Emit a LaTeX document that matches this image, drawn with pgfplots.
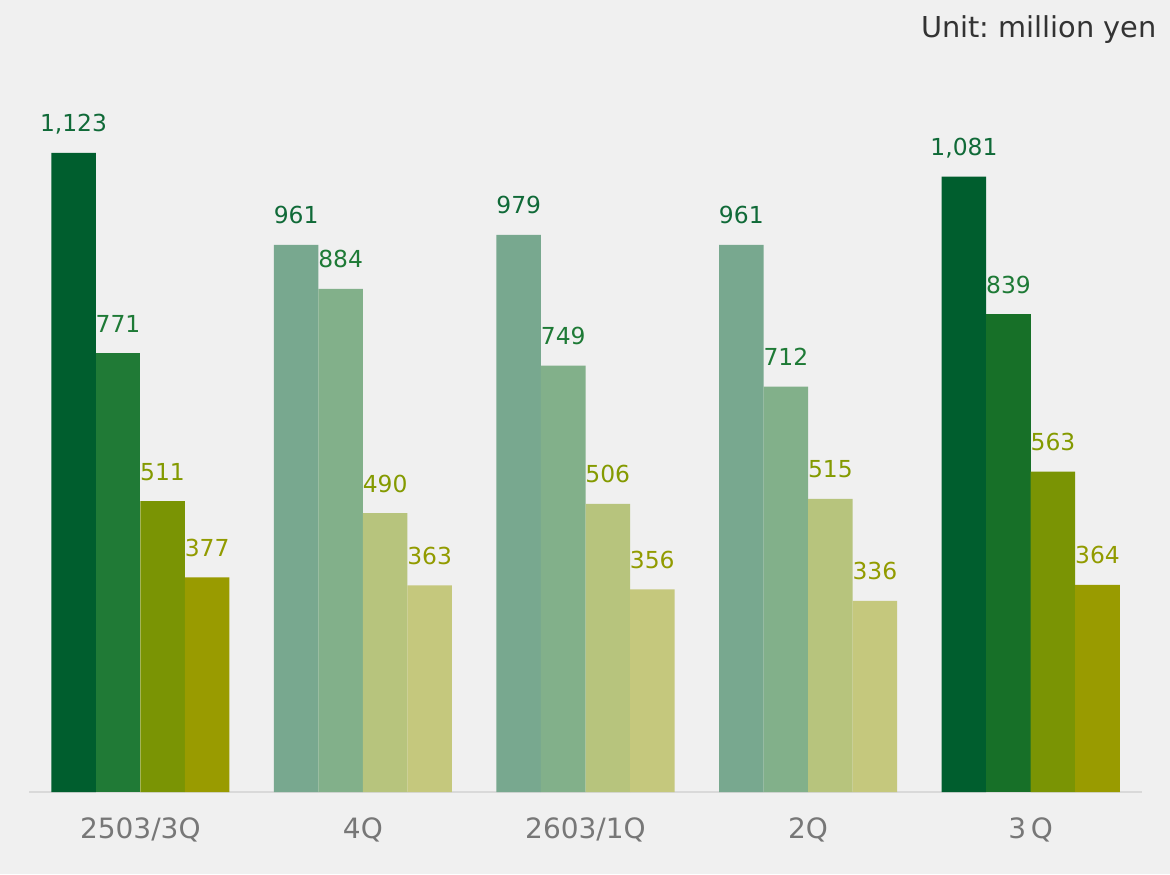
\documentclass[border=0pt]{standalone}
\usepackage{fontspec}
\setmainfont{DejaVu Sans}
\usepackage{pgfplots}
\pgfplotsset{compat=1.18}
\frenchspacing
\definecolor{bg}{HTML}{F0F0F0}
\definecolor{sa}{HTML}{005E2E}
\definecolor{sb}{HTML}{207A36}
\definecolor{sbb}{HTML}{177028}
\definecolor{sc}{HTML}{7A9404}
\definecolor{sd}{HTML}{999B00}
\definecolor{la}{HTML}{78A88F}
\definecolor{lb}{HTML}{82B08A}
\definecolor{lc}{HTML}{B7C47D}
\definecolor{ld}{HTML}{C5C87D}
\definecolor{ta}{HTML}{106A38}
\definecolor{tb}{HTML}{1E7A36}
\definecolor{tc}{HTML}{849A00}
\definecolor{td}{HTML}{929B00}
\definecolor{axgrey}{HTML}{D9D9D9}
\definecolor{tickgrey}{HTML}{777777}
\definecolor{unitgrey}{HTML}{333333}
\begin{document}
\begin{tikzpicture}[x=1pt,y=1pt]
\fill[bg] (0,0) rectangle (585,437);
\node[anchor=base east, text=unitgrey, font=\fontsize{14.4}{17}\selectfont, inner sep=0pt] at (578.5,418) {Unit: million yen};
\begin{axis}[
  at={(14.5pt,41pt)}, anchor=south west,
  scale only axis, width=556.5pt, height=366pt,
  xmin=-0.5, xmax=4.5, ymin=0, ymax=1286,
  axis x line*=bottom, axis y line=none,
  axis line style={draw=axgrey, line width=1pt, -},
  xtick={0,1,2,3,4},
  xticklabels={2503/3Q,4Q,2603/1Q,2Q,\raisebox{-2.5pt}{3\,Q}},
  major tick length=0pt,
  xticklabel style={text=tickgrey, font=\fontsize{14}{17}\selectfont, yshift=-9.5pt},
  ytick=\empty,
  ybar, bar width=0.2,
  clip=false,
  nodes near coords,
  /pgf/number format/.cd, fixed, precision=0, 1000 sep={,}, assume math mode=true,
  /pgfplots/.cd,
  every node near coord/.append style={anchor=base, yshift=10.5pt, font=\fontsize{11.7}{14}\selectfont},
]
% series 1
\addplot[fill=sa, draw=none, bar shift=-0.3, every node near coord/.append style={text=ta}] coordinates {(0,1123) (4,1081)};
\addplot[fill=la, draw=none, bar shift=-0.3, every node near coord/.append style={text=ta}] coordinates {(1,961) (2,979) (3,961)};
% series 2
\addplot[fill=sb, draw=none, bar shift=-0.1, every node near coord/.append style={text=tb}] coordinates {(0,771)};
\addplot[fill=sbb, draw=none, bar shift=-0.1, every node near coord/.append style={text=tb}] coordinates {(4,839)};
\addplot[fill=lb, draw=none, bar shift=-0.1, every node near coord/.append style={text=tb}] coordinates {(1,884) (2,749) (3,712)};
% series 3
\addplot[fill=sc, draw=none, bar shift=0.1, every node near coord/.append style={text=tc}] coordinates {(0,511) (4,563)};
\addplot[fill=lc, draw=none, bar shift=0.1, every node near coord/.append style={text=tc}] coordinates {(1,490) (2,506) (3,515)};
% series 4
\addplot[fill=sd, draw=none, bar shift=0.3, every node near coord/.append style={text=td}] coordinates {(0,377) (4,364)};
\addplot[fill=ld, draw=none, bar shift=0.3, every node near coord/.append style={text=td}] coordinates {(1,363) (2,356) (3,336)};
\end{axis}
\end{tikzpicture}
\end{document}
